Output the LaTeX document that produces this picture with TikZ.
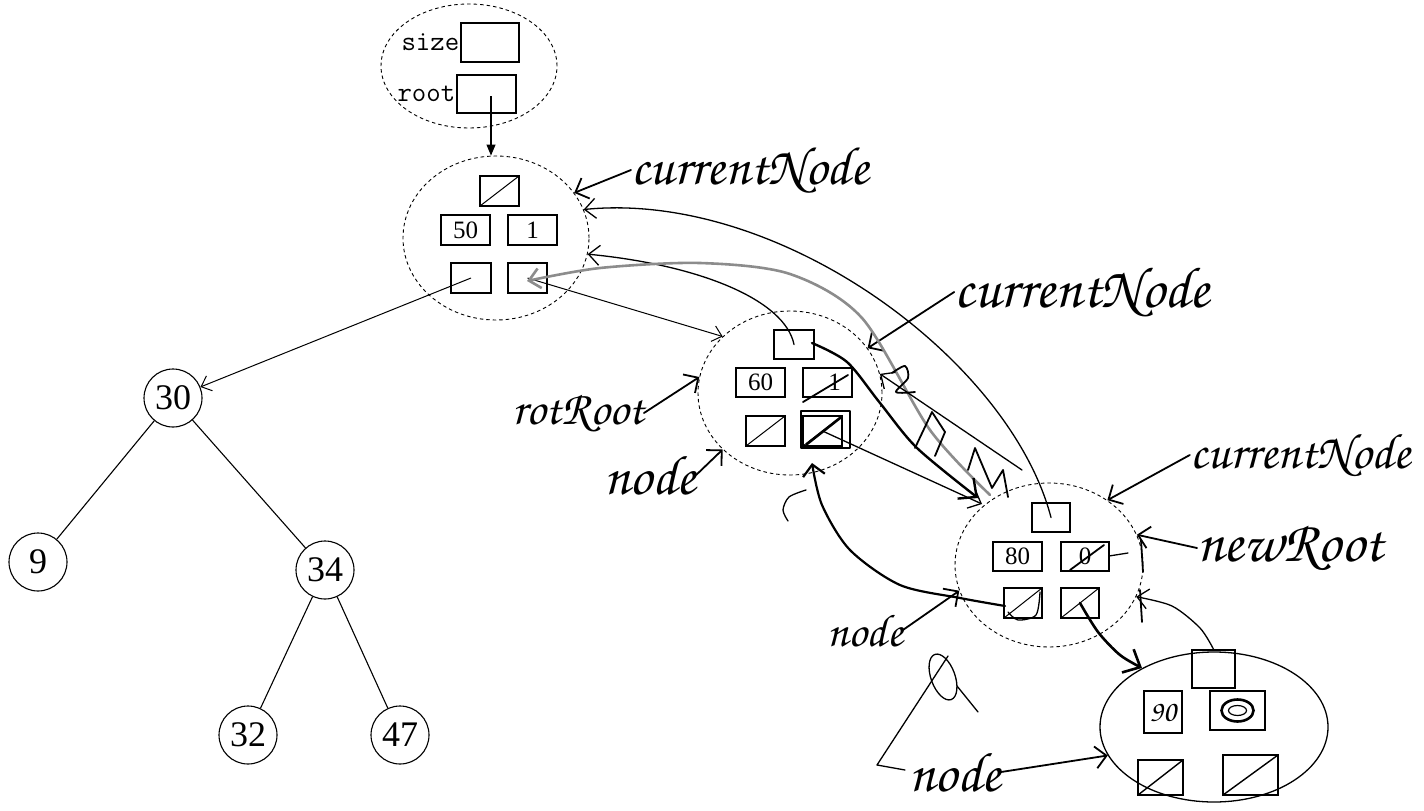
\documentclass[tikz,border=0pt]{standalone}
\usepackage[T1]{fontenc}
\usepackage{fontspec}
\setmainfont{Liberation Serif}
\usetikzlibrary{arrows.meta,shapes.geometric}
\newcommand{\handfont}[1]{\fontencoding{T1}\fontfamily{pzc}\fontseries{mb}\fontshape{it}\fontsize{#1}{#1}\selectfont}
\begin{document}
\begin{tikzpicture}[x=1pt,y=-1pt,
  dnode/.style={draw, ellipse, dash pattern=on 3.5pt off 3pt, line width=0.9pt, inner sep=0pt},
  cell/.style={draw, line width=1.1pt, inner sep=0pt, font=\fontsize{25}{25}\selectfont},
  slash/.style={cell, path picture={\draw[line width=1pt] (path picture bounding box.south west) -- (path picture bounding box.north east);}},
  hcell/.style={draw, line width=1.5pt, inner sep=0pt},
  hslash/.style={hcell, path picture={\draw[line width=1.4pt] (path picture bounding box.south west) -- (path picture bounding box.north east);}},
  tnode/.style={draw, circle, line width=1.1pt, minimum size=58pt, inner sep=0pt, font=\fontsize{36}{36}\selectfont},
  edge/.style={line width=1.1pt},
  ptr/.style={line width=1pt, -{Straight Barb[length=9pt,width=16pt]}},
  hand/.style={line width=1.8pt, line cap=round, line join=round},
  thinhand/.style={line width=1.3pt, line cap=round, line join=round},
  harrow/.style={hand, -{Straight Barb[length=11pt,width=22pt]}},
  tharrow/.style={thinhand, -{Straight Barb[length=11pt,width=20pt]}},
  hlabel/.style={font=\handfont{46}, inner sep=0pt},
  monolbl/.style={anchor=east, inner sep=1pt, font=\ttfamily\fontsize{28}{28}\selectfont},
]
\useasboundingbox (0,0) rectangle (1424,811);

% ---------- header object ----------
\node[dnode, minimum width=176pt, minimum height=124pt] (T) at (469,66) {};
\node[cell, minimum width=58pt, minimum height=39pt] (sizebox) at (490,42.5) {};
\node[monolbl] (sizelbl) at (sizebox.west) {size};
\node[cell, minimum width=59pt, minimum height=38pt] (rootbox) at (486.5,94) {};
\node[monolbl] (rootlbl) at (rootbox.west) {root};

% ---------- node A ----------
\node[dnode, minimum width=186pt, minimum height=164pt] (A) at (496,238) {};
\node[slash, minimum width=39pt, minimum height=30pt] (Atop) at (499.5,191) {};
\node[cell, minimum width=49pt, minimum height=30pt] (A50) at (465.5,230) {50};
\node[cell, minimum width=49pt, minimum height=30pt] (A1) at (532.5,230) {1};
\node[cell, minimum width=40pt, minimum height=30pt] (Al) at (471,278) {};
\node[cell, minimum width=39pt, minimum height=30pt] (Ar) at (527.5,278) {};

\coordinate (rp) at (491,96);
\draw[line width=1.1pt, -{Triangle[length=11pt,width=9pt]}] (rp) -- (rp |- A.north);

% ---------- node B ----------
\node[dnode, minimum width=184pt, minimum height=164pt] (B) at (790,393) {};
\node[cell, minimum width=40pt, minimum height=29pt] (Btop) at (794,344.5) {};
\node[cell, minimum width=49pt, minimum height=29pt] (B60) at (760.5,382.5) {60};
\node[cell, minimum width=49pt, minimum height=29pt] (B1) at (827.5,382.5) {\hspace*{14pt}1};
\node[slash, minimum width=39pt, minimum height=30pt] (Bl) at (765.5,431) {};
\node[slash, minimum width=39pt, minimum height=30pt] (Br) at (822.5,431) {};

% ---------- node C ----------
\node[dnode, minimum width=188pt, minimum height=164pt] (C) at (1049,565) {};
\node[cell, minimum width=38pt, minimum height=29pt] (Ctop) at (1051,517.5) {};
\node[cell, minimum width=49pt, minimum height=29pt] (C80) at (1017.5,556.5) {80};
\node[cell, minimum width=48pt, minimum height=29pt] (C0) at (1085,556.5) {0};
\node[slash, minimum width=38pt, minimum height=30pt] (Cl) at (1023,603) {};
\node[slash, minimum width=38pt, minimum height=30pt] (Cr) at (1080,603) {};

% ---------- node D (hand drawn) ----------
\node[draw, ellipse, line width=1.3pt, minimum width=228pt, minimum height=150pt] (D) at (1214,727) {};
\node[hcell, minimum width=43pt, minimum height=38pt] (Dtop) at (1213.5,669) {};
\node[hcell, minimum width=38pt, minimum height=42pt, font=\handfont{30}] (D90) at (1163,712) {90};
\node[hcell, minimum width=55pt, minimum height=39pt] (Dm) at (1237.5,710.5) {};
\draw[line width=2.6pt] (Dm.center) ellipse [x radius=16, y radius=11];
\draw[line width=1.2pt] (Dm.center) ellipse [x radius=9, y radius=5];
\node[hslash, minimum width=45pt, minimum height=35pt] (Dl) at (1160.5,777.5) {};
\node[hslash, minimum width=55pt, minimum height=40pt] (Dr) at (1250.5,775) {};

% ---------- tree ----------
\node[tnode] (n30) at (173,398) {30};
\node[tnode] (n9) at (38,562) {9};
\node[tnode] (n34) at (325,570) {34};
\node[tnode] (n32) at (248,735) {32};
\node[tnode] (n47) at (400,735) {47};
\draw[edge] (n30) -- (n9);
\draw[edge] (n30) -- (n34);
\draw[edge] (n34) -- (n32);
\draw[edge] (n34) -- (n47);

% printed pointers
\draw[ptr] (Al.center) -- (n30);
\draw[ptr] (Ar.center) -- (B.140);

% ---------- handwritten labels ----------
\node[hlabel, font=\handfont{54}] (cn1) at (750,170) {currentNode};
\node[hlabel, font=\handfont{58}] (cn2) at (1082,292) {currentNode};
\node[hlabel, font=\handfont{50}] (cn3) at (1300,455) {currentNode};
\node[hlabel, font=\handfont{58}] (nr) at (1290,548) {newRoot};
\node[hlabel, font=\handfont{48}] (rr) at (578,413) {rotRoot};
\node[hlabel, font=\handfont{56}] (nd1) at (650,475) {node};
\node[hlabel, font=\handfont{46}] (nd2) at (865,630) {node};
\node[hlabel, font=\handfont{56}] (nd3) at (955,772) {node};

\draw[harrow] (cn1.west) -- (A.30);
\draw[harrow] (cn2.west) -- (B.30);
\draw[harrow] (cn3.west) -- (C.48);
\draw[harrow] (nr.west) -- (C.19);
\draw[hand] (1141,540) -- (1143,572);
\draw[harrow] (rr.east) -- (B.170);
\draw[harrow] (nd1.east) -- (B.220);
\draw[harrow] (nd2.east) -- (C.196);
\draw[harrow] (nd3.east) -- (D.195);

% ---------- handwritten pointer changes ----------
\draw[tharrow] (Ctop.center) .. controls (1010,360) and (780,190) .. (A.18);
\draw[tharrow] (Btop.center) .. controls (785,300) and (700,265) .. (A.-10);
\draw[line width=2.6pt, black!45, line cap=round, -{Straight Barb[length=11pt,width=20pt]}]
  plot[smooth] coordinates {(990,495) (930,430) (862,318) (790,274) (700,263) (600,268) (527,281)};
\draw[hand, line width=2.4pt, -{Straight Barb[length=14pt,width=26pt]}]
  plot[smooth] coordinates {(812,343) (847,362) (880,403) (917,448) (978,498)};
\coordinate (cfrom) at (1022,470);
\draw[tharrow] (cfrom) -- (B.12);
\draw[tharrow] (Br.center) -- (982,504);
\draw[hand] (915,448) -- (932,412) -- (945,432) -- (935,456);
\draw[hand] (968,470) -- (975,448) -- (992,488) -- (1003,470) -- (1008,497);
\draw[hand] plot[smooth] coordinates {(892,373) (905,366) (908,378) (896,392) (915,392)};

\draw[harrow, line width=2.2pt] plot[smooth] coordinates {(1005,606) (960,598) (900,585) (850,550) (822,505) (812,463)};
\draw[thinhand] plot[smooth] coordinates {(806,490) (789,497) (783,510) (788,521)};

\draw[hand, line width=2.6pt, -{Straight Barb[length=14pt,width=26pt]}]
  plot[smooth] coordinates {(Cr.center) (1098,632) (1120,655) (1142,668)};
\draw[tharrow] plot[smooth] coordinates {(Dtop.north) (1200,628) (1172,606) (C.-20)};
\draw[hand] (1140,590) -- (1142,622);

% scribbles in boxes
\draw[hand] (803,402) -- (848,375);
\draw[thinhand] (801,411) rectangle (850,448);
\draw[hand, line width=2.6pt] (807,444) -- (840,418);
\draw[hand] (1070,570) -- (1104,545);
\draw[thinhand] (1109,556) -- (1128,553);
\draw[thinhand] plot[smooth] coordinates {(1040,592) (1036,615) (1018,620) (1008,612)};

% subtree sketch
\draw[thinhand, rotate around={20:(943,677)}] (943,677) ellipse [x radius=12, y radius=24];
\draw[thinhand] (948,656) -- (877,765) -- (905,770);
\draw[thinhand] (957,686) -- (978,712);
\end{tikzpicture}
\end{document}
